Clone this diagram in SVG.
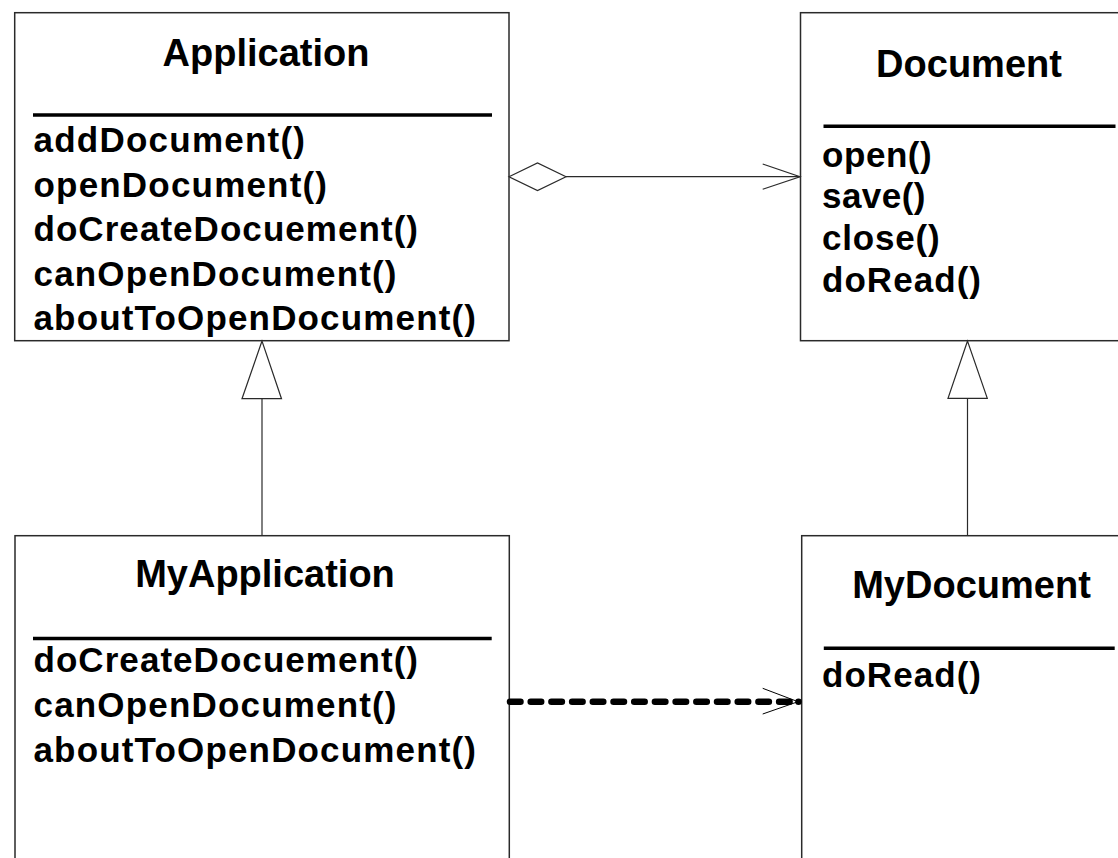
<svg xmlns="http://www.w3.org/2000/svg" width="1118" height="858" viewBox="0 0 1118 858">
<style>
.box{fill:#fff;stroke:#2a2a2a;stroke-width:1.5}
.title{font-family:"Liberation Sans",Arial,sans-serif;font-weight:bold;font-size:38px;fill:#000;text-anchor:middle}
.m{font-family:"Liberation Sans",Arial,sans-serif;font-weight:bold;font-size:35px;fill:#000}
.div{stroke:#000;stroke-width:3.5}
.thin{fill:none;stroke:#2a2a2a;stroke-width:1.2}
.tri{fill:#fff;stroke:#2a2a2a;stroke-width:1.2}
.dash{fill:none;stroke:#000;stroke-width:6.5;stroke-linecap:round;stroke-dasharray:10.5 10.2}
</style>
<rect width="1118" height="858" fill="#fff"/>
<g id="Application">
<rect class="box" x="14.7" y="12.7" width="494.3" height="328"/>
<text class="title" x="266" y="66">Application</text>
<line class="div" x1="33" y1="115" x2="492" y2="115"/>
<text class="m" x="33.5" y="152" textLength="271.5">addDocument()</text>
<text class="m" x="33.5" y="196.5" textLength="293.5">openDocument()</text>
<text class="m" x="33.5" y="241" textLength="384.5">doCreateDocuement()</text>
<text class="m" x="33.5" y="285.5" textLength="363">canOpenDocument()</text>
<text class="m" x="33.5" y="330" textLength="442.5">aboutToOpenDocument()</text>
</g>
<g id="Document">
<rect class="box" x="800.5" y="12.7" width="330" height="328"/>
<text class="title" x="969" y="76.7">Document</text>
<line class="div" x1="823.5" y1="126.3" x2="1115.5" y2="126.3"/>
<text class="m" x="822" y="166.7" textLength="109.7">open()</text>
<text class="m" x="822" y="208.3" textLength="103.5">save()</text>
<text class="m" x="822" y="250" textLength="117.7">close()</text>
<text class="m" x="822" y="291.7" textLength="159">doRead()</text>
</g>
<g id="MyApplication">
<rect class="box" x="15" y="535.7" width="494.3" height="340"/>
<text class="title" x="265" y="586.7">MyApplication</text>
<line class="div" x1="33" y1="638.5" x2="491.7" y2="638.5"/>
<text class="m" x="33.5" y="671.7" textLength="384.5">doCreateDocuement()</text>
<text class="m" x="33.5" y="716.7" textLength="363">canOpenDocument()</text>
<text class="m" x="33.5" y="761.7" textLength="442.5">aboutToOpenDocument()</text>
</g>
<g id="MyDocument">
<rect class="box" x="801.7" y="535.7" width="330" height="340"/>
<text class="title" x="971.5" y="598.3">MyDocument</text>
<line class="div" x1="823.8" y1="648.3" x2="1114.7" y2="648.3"/>
<text class="m" x="822" y="686.7" textLength="159">doRead()</text>
</g>
<g id="connectors">
<polygon class="tri" points="509,176.7 537.5,163 566,176.7 537.5,190.5"/>
<line class="thin" x1="566" y1="176.7" x2="800" y2="176.7"/>
<polyline class="thin" points="762.7,164 800,176.7 762.7,189.3"/>
<polygon class="tri" points="262,341 242,398.7 281.5,398.7"/>
<line class="thin" x1="262" y1="398.7" x2="262" y2="535.7"/>
<polygon class="tri" points="967.5,341 948,398.3 987.3,398.3"/>
<line class="thin" x1="967.5" y1="398.3" x2="967.5" y2="535.7"/>
<path class="dash" d="M510,701.7 H796"/>
<circle cx="798.5" cy="701.7" r="3.3" fill="#000"/>
<polyline fill="none" stroke="#000" stroke-width="1" points="762.7,688.3 798,701.7 762.7,714"/>
</g>
</svg>
